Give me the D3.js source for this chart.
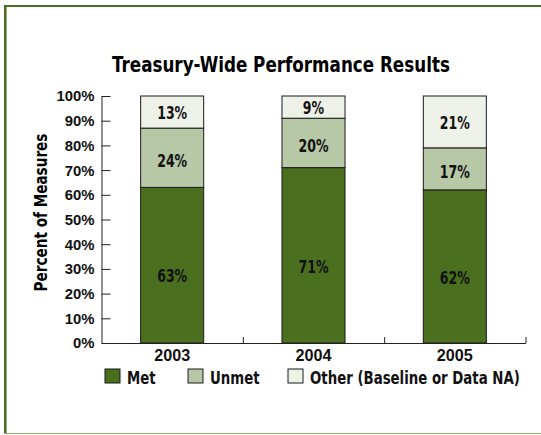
<!DOCTYPE html>
<html>
<head>
<meta charset="utf-8">
<script src="https://cdn.jsdelivr.net/npm/d3@7"></script>
<style>
  body { margin: 0; background: #fff; }
  svg { display: block; font-family: "Liberation Sans Narrow", "DejaVu Sans Condensed", "DejaVu Sans", sans-serif; font-weight: bold; }
</style>
</head>
<body>
<svg id="chart" width="541" height="435"></svg>
<script>
// data
const years = ["2003", "2004", "2005"];
const met = [63, 71, 62];
const unmet = [24, 20, 17];
const other = [13, 9, 21];
const seriesNames = ["Met", "Unmet", "Other (Baseline or Data NA)"];
const seriesColors = ["#4a701f", "#b7c8a7", "#eef1e8"];

const svg = d3.select("#chart");

// squeeze a group of texts horizontally (around each text's anchor) so that
// one of them gets the target width -- stands in for the condensed face of the original
function condense(sel, target, refIndex = 0) {
  const nodes = sel.nodes();
  const k = target / nodes[refIndex].getComputedTextLength();
  nodes.forEach(n => {
    const ax = +n.getAttribute("x") || 0;
    const prev = n.getAttribute("transform") || "";
    n.setAttribute("transform", `${prev} translate(${ax},0) scale(${k},1) translate(${-ax},0)`);
  });
}

// frame
svg.append("line").attr("x1", 5).attr("x2", 541).attr("y1", 6).attr("y2", 6)
  .attr("stroke", "#4a7023").attr("stroke-width", 2.2);
svg.append("line").attr("x1", 5.3).attr("x2", 5.3).attr("y1", 5).attr("y2", 434)
  .attr("stroke", "#4a7023").attr("stroke-width", 2.6);
svg.append("line").attr("x1", 4).attr("x2", 541).attr("y1", 433.5).attr("y2", 433.5)
  .attr("stroke", "#8aab62").attr("stroke-width", 1);

const plot = { left: 101.5, right: 525.5, top: 96, bottom: 343 };

const x = d3.scaleBand().domain(years).range([plot.left, plot.right])
  .paddingInner(0.554).paddingOuter(0.277);
const y = d3.scaleLinear().domain([0, 100]).range([plot.bottom, plot.top]);

// title
const title = svg.append("text").attr("x", 281).attr("y", 72).attr("text-anchor", "middle")
  .attr("font-size", 21).text("Treasury-Wide Performance Results");
condense(title, 338);

// stacked bars
const table = years.map((yr, i) => ({ year: yr, met: met[i], unmet: unmet[i], other: other[i] }));
const keys = ["met", "unmet", "other"];
const stack = d3.stack().keys(keys)(table);
const labelShift = [11, 3, 1];

const layers = svg.append("g").selectAll("g").data(stack).join("g")
  .attr("fill", (d, i) => seriesColors[i]);

layers.selectAll("rect").data(d => d).join("rect")
  .attr("x", d => x(d.data.year))
  .attr("width", x.bandwidth())
  .attr("y", d => y(d[1]))
  .attr("height", d => y(d[0]) - y(d[1]))
  .attr("stroke", "#1a1a1a").attr("stroke-width", 1);

const valueLabels = svg.append("g");
stack.forEach((s, si) => {
  valueLabels.selectAll(null).data(s).join("text")
    .attr("x", d => x(d.data.year) + x.bandwidth() / 2)
    .attr("y", d => (y(d[0]) + y(d[1])) / 2 + labelShift[si])
    .attr("dy", "0.36em")
    .attr("text-anchor", "middle")
    .attr("fill", "#111")
    .attr("font-size", 17.5)
    .text(d => (d[1] - d[0]) + "%");
});
condense(valueLabels.selectAll("text"), 30);

// y axis
const yAxis = svg.append("g").attr("transform", `translate(${plot.left},0)`)
  .call(d3.axisLeft(y).tickValues(d3.range(0, 101, 10))
    .tickFormat(d => d + "%").tickSizeInner(-9).tickSizeOuter(0).tickPadding(7));
yAxis.selectAll("text").attr("font-size", 15.5).attr("fill", "#111")
  .attr("font-family", null);
yAxis.selectAll("line, path").attr("stroke", "#222");
condense(yAxis.selectAll("text"), 38, 10);

// x axis line with ticks at category boundaries
const xb = d3.scaleLinear().domain([0, years.length]).range([plot.left, plot.right]);
const xAxis = svg.append("g").attr("transform", `translate(0,${plot.bottom})`)
  .call(d3.axisBottom(xb).tickValues([1, 2, 3]).tickFormat("").tickSizeInner(-6).tickSizeOuter(0));
xAxis.selectAll("line, path").attr("stroke", "#222");

// year labels
const xLab = svg.append("g").attr("transform", `translate(0,${plot.bottom})`)
  .call(d3.axisBottom(x).tickSize(0).tickPadding(6));
xLab.select(".domain").remove();
xLab.selectAll("text").attr("font-size", 16.5).attr("fill", "#111").attr("font-family", null);
condense(xLab.selectAll("text"), 36);

// y title
const yTitle = svg.append("text")
  .attr("transform", `translate(47,${(plot.top + plot.bottom) / 2 - 7}) rotate(-90)`)
  .attr("text-anchor", "middle").attr("font-size", 17)
  .text("Percent of Measures");
condense(yTitle, 158);

// legend
const legendX = [105, 188, 288];
const legend = svg.append("g").selectAll("g").data(seriesNames).join("g")
  .attr("transform", (d, i) => `translate(${legendX[i]},369)`);
legend.append("rect").attr("width", 15).attr("height", 14)
  .attr("fill", (d, i) => seriesColors[i]).attr("stroke", "#1a1a1a");
legend.append("text").attr("x", 22).attr("y", 14.5).attr("font-size", 17.5)
  .attr("fill", "#111").text(d => d);
condense(legend.selectAll("text"), 210, 2);
</script>
</body>
</html>
